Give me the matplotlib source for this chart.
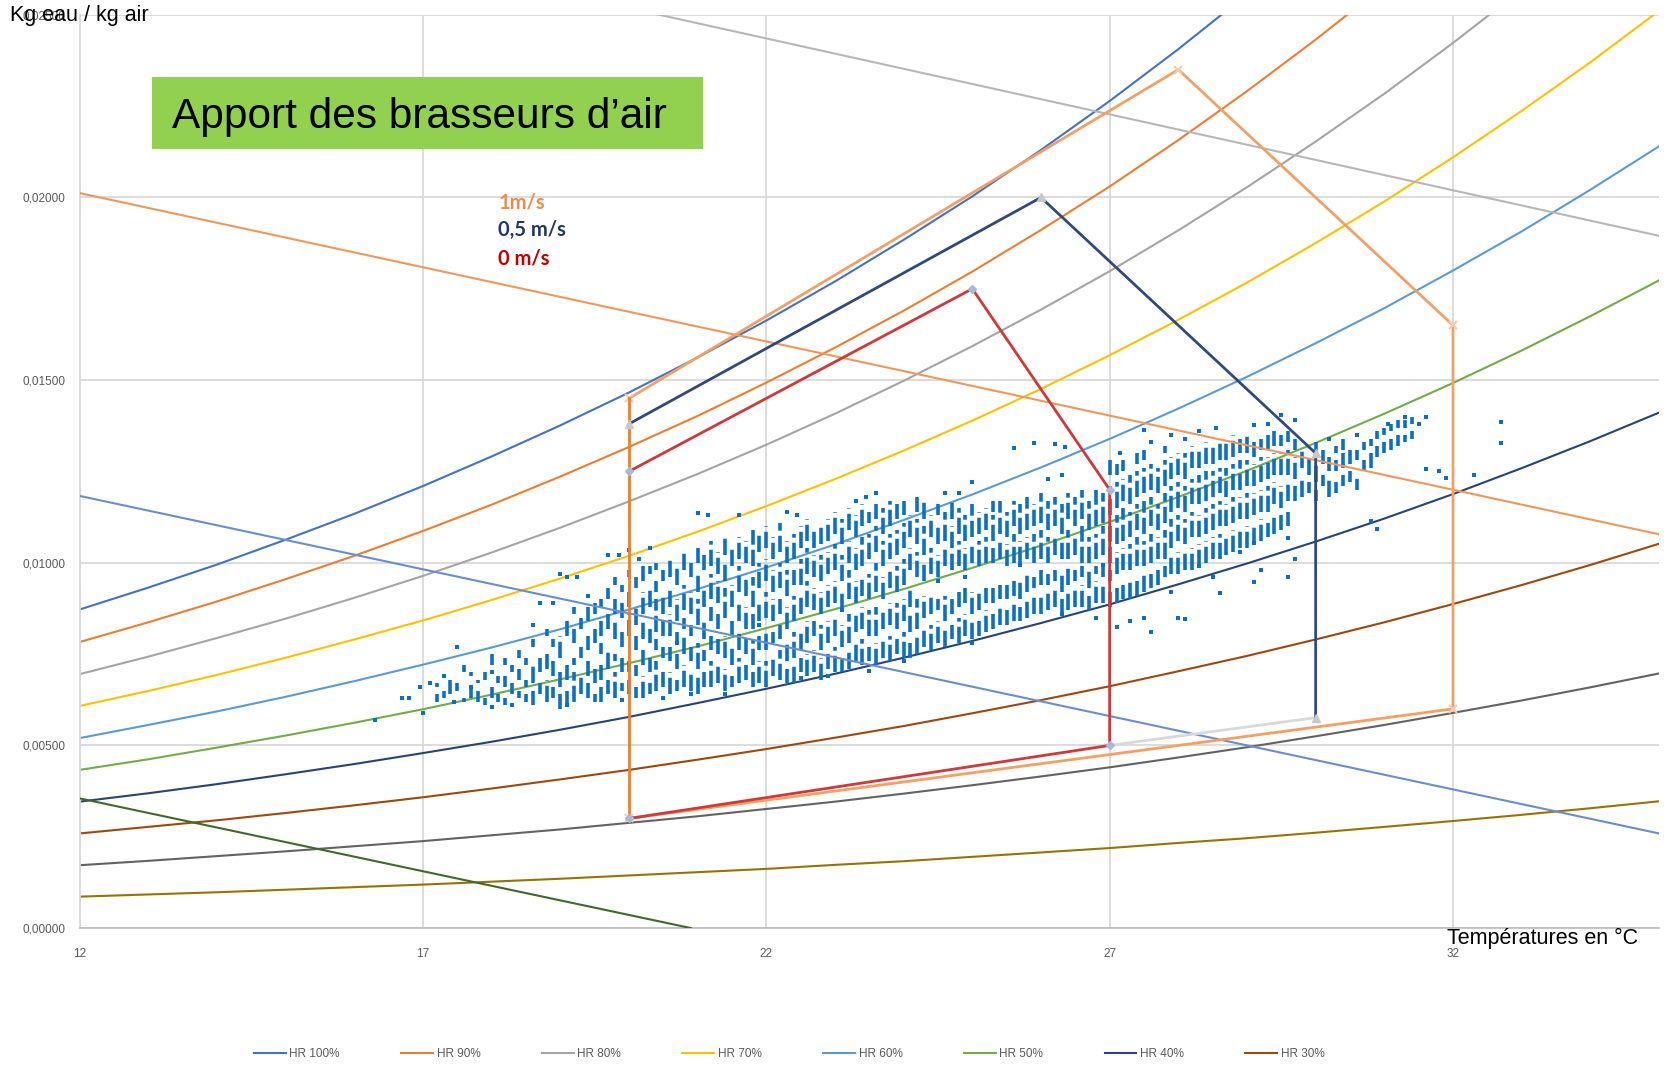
import matplotlib
matplotlib.use("Agg")
import matplotlib.pyplot as plt
from matplotlib.patches import Rectangle

plt.rcParams["font.family"] = ["Liberation Sans", "DejaVu Sans"]

# temperatures (°C) and relative-humidity curves (kg eau / kg air)
TEMPS = list(range(12, 36))
HR_LABELS = ["HR 100%", "HR 90%", "HR 80%", "HR 70%", "HR 60%", "HR 50%",
             "HR 40%", "HR 30%", "HR 20%", "HR 10%"]
HR_COLORS = ["#4472C4", "#ED7D31", "#A5A5A5", "#FFC000", "#5B9BD5", "#70AD47",
             "#264478", "#9E480E", "#636363", "#997300"]
HR100 = [0.00872, 0.00932, 0.00995, 0.01063, 0.01134, 0.01210, 0.01291, 0.01376, 0.01466,
         0.01562, 0.01663, 0.01770, 0.01884, 0.02003, 0.02130, 0.02264, 0.02406, 0.02556]
HR90 = [0.00783, 0.00837, 0.00894, 0.00955, 0.01019, 0.01087, 0.01159, 0.01236, 0.01317,
        0.01402, 0.01493, 0.01589, 0.01690, 0.01797, 0.01911, 0.02030, 0.02157, 0.02291,
        0.02432, 0.02581]
HR80 = [0.00695, 0.00743, 0.00794, 0.00847, 0.00904, 0.00964, 0.01028, 0.01096, 0.01168,
        0.01243, 0.01323, 0.01408, 0.01498, 0.01593, 0.01693, 0.01798, 0.01910, 0.02028,
        0.02153, 0.02284, 0.02423, 0.02569]
HR70 = [0.00608, 0.00649, 0.00693, 0.00740, 0.00790, 0.00842, 0.00898, 0.00957, 0.01019,
        0.01085, 0.01155, 0.01229, 0.01307, 0.01389, 0.01476, 0.01568, 0.01665, 0.01767,
        0.01875, 0.01989, 0.02110, 0.02237, 0.02370, 0.02511]
HR60 = [0.00520, 0.00556, 0.00593, 0.00633, 0.00676, 0.00721, 0.00768, 0.00818, 0.00872,
        0.00928, 0.00987, 0.01050, 0.01117, 0.01187, 0.01261, 0.01339, 0.01422, 0.01509,
        0.01601, 0.01697, 0.01800, 0.01907, 0.02021, 0.02140]
HR50 = [0.00433, 0.00462, 0.00494, 0.00527, 0.00562, 0.00599, 0.00639, 0.00681, 0.00725,
        0.00771, 0.00821, 0.00873, 0.00928, 0.00986, 0.01047, 0.01112, 0.01180, 0.01252,
        0.01328, 0.01408, 0.01492, 0.01581, 0.01675, 0.01773]
HR40 = [0.00346, 0.00369, 0.00394, 0.00421, 0.00449, 0.00479, 0.00510, 0.00543, 0.00578,
        0.00616, 0.00655, 0.00696, 0.00740, 0.00786, 0.00835, 0.00886, 0.00941, 0.00998,
        0.01058, 0.01121, 0.01188, 0.01259, 0.01333, 0.01411]
HR30 = [0.00259, 0.00277, 0.00295, 0.00315, 0.00336, 0.00358, 0.00382, 0.00407, 0.00433,
        0.00461, 0.00490, 0.00521, 0.00553, 0.00588, 0.00624, 0.00662, 0.00703, 0.00745,
        0.00790, 0.00837, 0.00887, 0.00939, 0.00994, 0.01052]
HR20 = [0.00172, 0.00184, 0.00197, 0.00210, 0.00224, 0.00238, 0.00254, 0.00270, 0.00288,
        0.00306, 0.00326, 0.00346, 0.00368, 0.00391, 0.00415, 0.00440, 0.00467, 0.00495,
        0.00525, 0.00556, 0.00589, 0.00623, 0.00659, 0.00697]
HR10 = [0.00086, 0.00092, 0.00098, 0.00105, 0.00112, 0.00119, 0.00127, 0.00135, 0.00144,
        0.00153, 0.00162, 0.00173, 0.00183, 0.00195, 0.00207, 0.00219, 0.00233, 0.00246,
        0.00261, 0.00277, 0.00293, 0.00310, 0.00328, 0.00347]
HR_SERIES = [HR100, HR90, HR80, HR70, HR60, HR50, HR40, HR30, HR20, HR10]

# iso-enthalpy lines (end points)
ENTH_T = [[12, 20.9], [12, 35], [12, 35], [12, 35]]
ENTH_W = [[0.00355, 0.0], [0.01183, 0.00259], [0.02012, 0.01078], [0.02851, 0.01895]]
ENTH_COLORS = ["#43682B", "#698ED0", "#F1975A", "#B7B7B7"]

# comfort zones per air speed
ZONE_1MS_T = [20, 28, 32, 32, 20]
ZONE_1MS_W = [0.0145, 0.0235, 0.0165, 0.0060, 0.0030]
ZONE_1MS_EDGE_T = [20, 20]
ZONE_1MS_EDGE_W = [0.0030, 0.0145]
ZONE_05_T = [20, 26, 30, 30]
ZONE_05_W = [0.0138, 0.0200, 0.0130, 0.00576]
ZONE_05_BASE_T = [30, 27]
ZONE_05_BASE_W = [0.00576, 0.0050]
ZONE_0_T = [20, 25, 27, 27, 20]
ZONE_0_W = [0.0125, 0.0175, 0.0120, 0.0050, 0.0030]

# measured points: vertical runs of stacked hourly points (T, w low, w high) in 1e-4 kg/kg
STREAKS = [
    (17.2, 62, 64), (17.2, 66, 67), (17.3, 63, 65), (17.4, 64, 68), (17.5, 65, 67),
    (17.6, 62, 63), (17.6, 70, 72), (17.7, 63, 66), (17.7, 69, 70), (17.8, 62, 65),
    (17.8, 67, 68), (17.9, 61, 63), (17.9, 68, 70), (18.0, 63, 66), (18.0, 72, 75),
    (18.1, 62, 64), (18.1, 67, 69), (18.2, 61, 63), (18.2, 66, 69), (18.2, 72, 74),
    (18.3, 64, 67), (18.3, 70, 72), (18.4, 63, 65), (18.4, 68, 71), (18.4, 74, 76),
    (18.5, 62, 64), (18.5, 66, 68), (18.5, 72, 74), (18.6, 61, 65), (18.6, 67, 72),
    (18.6, 77, 79), (18.7, 64, 67), (18.7, 70, 74), (18.8, 62, 68), (18.8, 71, 75),
    (18.8, 80, 82), (18.9, 63, 66), (18.9, 69, 73), (18.9, 77, 79),
    (19.0, 60, 64), (19.0, 66, 70), (19.0, 74, 80), (19.1, 61, 65), (19.1, 68, 72), (19.1, 80, 84),
    (19.2, 62, 70), (19.2, 72, 74), (19.2, 78, 82), (19.2, 86, 88),
    (19.3, 64, 69), (19.3, 74, 77), (19.3, 82, 85),
    (19.4, 63, 67), (19.4, 69, 73), (19.4, 76, 80), (19.4, 84, 88),
    (19.5, 62, 64), (19.5, 67, 71), (19.5, 78, 82), (19.5, 86, 89),
    (19.6, 62, 66), (19.6, 68, 72), (19.6, 75, 78), (19.6, 80, 84), (19.6, 88, 90),
    (19.7, 64, 68), (19.7, 71, 76), (19.7, 82, 86), (19.7, 90, 93),
    (19.8, 63, 70), (19.8, 73, 75), (19.8, 79, 84), (19.8, 86, 90), (19.8, 94, 96),
    (19.9, 65, 67), (19.9, 70, 74), (19.9, 77, 81), (19.9, 85, 89), (19.9, 92, 94),
    (20.0, 64, 68), (20.0, 70, 73), (20.0, 80, 86), (20.0, 88, 92), (20.0, 96, 98),
    (20.1, 63, 66), (20.1, 69, 72), (20.1, 76, 80), (20.1, 83, 88), (20.1, 93, 96),
    (20.2, 63, 69), (20.2, 72, 76), (20.2, 79, 84), (20.2, 86, 92), (20.2, 95, 99),
    (20.3, 64, 67), (20.3, 70, 74), (20.3, 78, 82), (20.3, 88, 93), (20.3, 97, 99),
    (20.4, 65, 73), (20.4, 76, 79), (20.4, 81, 90), (20.4, 92, 95), (20.4, 98, 100),
    (20.5, 66, 70), (20.5, 74, 77), (20.5, 80, 84), (20.5, 86, 91), (20.5, 95, 98),
    (20.6, 64, 70), (20.6, 73, 77), (20.6, 80, 86), (20.6, 88, 93), (20.6, 96, 101),
    (20.7, 65, 68), (20.7, 71, 75), (20.7, 78, 81), (20.7, 84, 90), (20.7, 94, 99),
    (20.8, 66, 72), (20.8, 75, 80), (20.8, 82, 85), (20.8, 87, 94), (20.8, 98, 103),
    (20.9, 65, 70), (20.9, 73, 77), (20.9, 80, 83), (20.9, 86, 92), (20.9, 96, 100),
    (21.0, 64, 69), (21.0, 71, 78), (21.0, 83, 90), (21.0, 92, 97), (21.0, 100, 104),
    (21.1, 66, 70), (21.1, 73, 76), (21.1, 79, 84), (21.1, 88, 93), (21.1, 98, 102),
    (21.2, 66, 73), (21.2, 76, 80), (21.2, 84, 88), (21.2, 90, 97), (21.2, 99, 106),
    (21.3, 67, 72), (21.3, 75, 79), (21.3, 82, 86), (21.3, 89, 95), (21.3, 97, 103),
    (21.4, 65, 71), (21.4, 74, 80), (21.4, 85, 93), (21.4, 95, 100), (21.4, 102, 108),
    (21.5, 66, 69), (21.5, 72, 77), (21.5, 80, 84), (21.5, 88, 94), (21.5, 99, 104),
    (21.6, 67, 74), (21.6, 76, 81), (21.6, 84, 89), (21.6, 92, 99), (21.6, 101, 107),
    (21.7, 68, 72), (21.7, 75, 79), (21.7, 82, 88), (21.7, 91, 96), (21.7, 100, 106),
    (21.8, 66, 70), (21.8, 72, 79), (21.8, 82, 86), (21.8, 88, 96), (21.8, 99, 109),
    (21.9, 67, 73), (21.9, 76, 80), (21.9, 84, 89), (21.9, 93, 100), (21.9, 103, 108),
    (22.0, 66, 73), (22.0, 76, 82), (22.0, 85, 92), (22.0, 95, 101), (22.0, 104, 110),
    (22.1, 69, 74), (22.1, 78, 81), (22.1, 84, 90), (22.1, 92, 98), (22.1, 101, 107),
    (22.2, 68, 76), (22.2, 79, 83), (22.2, 86, 90), (22.2, 93, 100), (22.2, 103, 111),
    (22.3, 67, 71), (22.3, 73, 78), (22.3, 82, 88), (22.3, 91, 98), (22.3, 100, 106),
    (22.4, 67, 72), (22.4, 74, 81), (22.4, 84, 91), (22.4, 94, 98), (22.4, 101, 108),
    (22.5, 70, 74), (22.5, 76, 82), (22.5, 86, 91), (22.5, 94, 101), (22.5, 104, 110),
    (22.6, 69, 75), (22.6, 78, 84), (22.6, 88, 95), (22.6, 97, 104), (22.6, 106, 112),
    (22.7, 70, 76), (22.7, 80, 84), (22.7, 87, 93), (22.7, 96, 102), (22.7, 104, 109),
    (22.8, 68, 74), (22.8, 76, 83), (22.8, 86, 92), (22.8, 95, 102), (22.8, 105, 111),
    (22.9, 71, 75), (22.9, 78, 84), (22.9, 88, 94), (22.9, 97, 103), (22.9, 106, 112),
    (23.0, 70, 77), (23.0, 80, 85), (23.0, 89, 95), (23.0, 98, 105), (23.0, 108, 114),
    (23.1, 70, 74), (23.1, 77, 83), (23.1, 87, 92), (23.1, 95, 102), (23.1, 105, 112),
    (23.2, 71, 76), (23.2, 78, 86), (23.2, 90, 98), (23.2, 100, 106), (23.2, 109, 115),
    (23.3, 73, 78), (23.3, 81, 86), (23.3, 89, 95), (23.3, 98, 104), (23.3, 107, 113),
    (23.4, 72, 79), (23.4, 82, 88), (23.4, 91, 96), (23.4, 99, 107), (23.4, 110, 116),
    (23.5, 73, 77), (23.5, 80, 87), (23.5, 90, 97), (23.5, 101, 108), (23.5, 111, 114),
    (23.6, 72, 78), (23.6, 80, 88), (23.6, 92, 100), (23.6, 103, 110), (23.6, 112, 116),
    (23.7, 74, 79), (23.7, 82, 87), (23.7, 90, 96), (23.7, 99, 106), (23.7, 108, 115),
    (23.8, 73, 80), (23.8, 83, 89), (23.8, 93, 98), (23.8, 101, 108), (23.8, 110, 117),
    (23.9, 75, 79), (23.9, 82, 89), (23.9, 92, 99), (23.9, 102, 109), (23.9, 112, 116),
    (24.0, 74, 81), (24.0, 84, 90), (24.0, 94, 101), (24.0, 104, 111), (24.0, 113, 117),
    (24.1, 74, 78), (24.1, 81, 86), (24.1, 88, 93), (24.1, 98, 104), (24.1, 107, 113),
    (24.2, 75, 80), (24.2, 82, 90), (24.2, 96, 103), (24.2, 105, 112), (24.2, 114, 118),
    (24.3, 77, 82), (24.3, 85, 91), (24.3, 95, 100), (24.3, 102, 110), (24.3, 112, 117),
    (24.4, 76, 83), (24.4, 86, 91), (24.4, 97, 104), (24.4, 107, 113),
    (24.5, 78, 84), (24.5, 87, 90), (24.5, 96, 102), (24.5, 105, 111), (24.5, 113, 116),
    (24.6, 77, 82), (24.6, 84, 91), (24.6, 99, 104), (24.6, 106, 114),
    (24.7, 79, 83), (24.7, 86, 90), (24.7, 98, 103), (24.7, 104, 110), (24.7, 112, 117),
    (24.8, 78, 85), (24.8, 88, 92), (24.8, 99, 106), (24.8, 108, 115),
    (24.9, 80, 86), (24.9, 89, 93), (24.9, 98, 104), (24.9, 106, 113),
    (25.0, 79, 84), (25.0, 86, 92), (25.0, 100, 105), (25.0, 107, 116),
    (25.1, 80, 84), (25.1, 87, 92), (25.1, 99, 106), (25.1, 108, 114),
    (25.2, 81, 87), (25.2, 89, 93), (25.2, 100, 107), (25.2, 109, 115),
    (25.3, 82, 86), (25.3, 89, 93), (25.3, 100, 104), (25.3, 106, 113), (25.3, 114, 117),
    (25.4, 83, 88), (25.4, 90, 94), (25.4, 101, 106), (25.4, 108, 117),
    (25.5, 83, 87), (25.5, 90, 94), (25.5, 99, 105), (25.5, 107, 114),
    (25.6, 84, 89), (25.6, 91, 95), (25.6, 100, 108), (25.6, 110, 117),
    (25.7, 84, 88), (25.7, 90, 95), (25.7, 100, 106), (25.7, 108, 116),
    (25.8, 85, 90), (25.8, 92, 97), (25.8, 101, 107), (25.8, 109, 118),
    (25.9, 86, 91), (25.9, 93, 96), (25.9, 100, 108), (25.9, 110, 116),
    (26.0, 86, 91), (26.0, 94, 98), (26.0, 101, 109), (26.0, 111, 119),
    (26.1, 87, 92), (26.1, 94, 97), (26.1, 100, 107), (26.1, 109, 117),
    (26.2, 88, 93), (26.2, 95, 98), (26.2, 102, 108), (26.2, 110, 118),
    (26.3, 86, 90), (26.3, 92, 97), (26.3, 101, 106), (26.3, 108, 116),
    (26.4, 87, 92), (26.4, 94, 99), (26.4, 101, 109), (26.4, 112, 119),
    (26.5, 88, 93), (26.5, 95, 98), (26.5, 102, 108), (26.5, 110, 118),
    (26.6, 88, 94), (26.6, 96, 99), (26.6, 100, 110), (26.6, 112, 120),
    (26.7, 87, 91), (26.7, 93, 98), (26.7, 100, 107), (26.7, 109, 117),
    (26.8, 89, 95), (26.8, 97, 99), (26.8, 101, 108), (26.8, 110, 120),
    (26.9, 89, 94), (26.9, 96, 99), (26.9, 102, 110), (26.9, 111, 119),
    (27.0, 88, 92), (27.0, 95, 98), (27.0, 100, 110), (27.0, 113, 121), (27.0, 124, 128),
    (27.1, 89, 93), (27.1, 97, 103), (27.1, 105, 113), (27.1, 115, 122), (27.1, 124, 127),
    (27.2, 90, 94), (27.2, 98, 104), (27.2, 106, 115), (27.2, 117, 123), (27.2, 125, 128),
    (27.3, 90, 95), (27.3, 98, 105), (27.3, 107, 114), (27.3, 116, 124),
    (27.4, 91, 95), (27.4, 99, 107), (27.4, 109, 116), (27.4, 118, 125), (27.4, 127, 130),
    (27.5, 92, 97), (27.5, 99, 106), (27.5, 108, 117), (27.5, 119, 126), (27.5, 128, 131),
    (27.6, 93, 97), (27.6, 100, 108), (27.6, 110, 118), (27.6, 120, 127),
    (27.7, 94, 98), (27.7, 101, 107), (27.7, 109, 116), (27.7, 119, 126),
    (27.8, 96, 99), (27.8, 101, 109), (27.8, 111, 119), (27.8, 121, 128), (27.8, 130, 132),
    (27.9, 97, 102), (27.9, 104, 112), (27.9, 114, 121), (27.9, 123, 129),
    (28.0, 97, 103), (28.0, 106, 113), (28.0, 115, 122), (28.0, 124, 130),
    (28.1, 98, 103), (28.1, 105, 112), (28.1, 114, 121), (28.1, 123, 130),
    (28.2, 98, 104), (28.2, 107, 114), (28.2, 116, 123), (28.2, 126, 132),
    (28.3, 99, 105), (28.3, 107, 113), (28.3, 116, 124), (28.3, 126, 131),
    (28.4, 100, 106), (28.4, 108, 115), (28.4, 117, 125), (28.4, 127, 133),
    (28.5, 101, 107), (28.5, 109, 116), (28.5, 118, 125), (28.5, 127, 132),
    (28.6, 101, 108), (28.6, 110, 117), (28.6, 119, 126), (28.6, 128, 134),
    (28.7, 102, 107), (28.7, 110, 116), (28.7, 118, 126), (28.7, 128, 133),
    (28.8, 103, 109), (28.8, 111, 118), (28.8, 120, 127), (28.8, 129, 135),
    (28.9, 104, 109), (28.9, 112, 118), (28.9, 120, 128), (28.9, 130, 134),
    (29.0, 104, 110), (29.0, 112, 119), (29.0, 121, 128), (29.0, 130, 135),
    (29.1, 105, 111), (29.1, 113, 119), (29.1, 121, 127), (29.1, 129, 133),
    (29.2, 106, 112), (29.2, 114, 120), (29.2, 122, 129), (29.2, 131, 134),
    (29.3, 107, 111), (29.3, 114, 121), (29.3, 123, 129), (29.3, 131, 135),
    (29.4, 108, 113), (29.4, 116, 122), (29.4, 124, 130), (29.4, 132, 136),
    (29.5, 109, 113), (29.5, 115, 121), (29.5, 124, 130), (29.5, 132, 135),
    (29.6, 110, 114), (29.6, 117, 122), (29.6, 124, 131), (29.6, 133, 136),
    (29.7, 117, 121), (29.7, 123, 129), (29.7, 131, 134),
    (29.8, 118, 123), (29.8, 126, 131), (29.9, 119, 122), (29.9, 124, 129),
    (30.0, 117, 120), (30.0, 122, 127), (30.0, 129, 133), (30.1, 121, 124), (30.1, 127, 131),
    (30.2, 118, 123), (30.2, 125, 129), (30.3, 119, 122), (30.3, 125, 128), (30.3, 130, 132),
    (30.4, 121, 124), (30.4, 126, 130), (30.4, 131, 134), (30.5, 122, 125), (30.5, 127, 131),
    (30.6, 120, 123), (30.6, 128, 131), (30.7, 125, 128), (30.7, 131, 133),
    (30.8, 126, 130), (30.8, 132, 134), (30.9, 129, 132), (30.9, 134, 136),
    (31.0, 130, 133), (31.0, 135, 137), (31.1, 131, 134), (31.1, 136, 138),
    (31.2, 132, 135), (31.2, 137, 139), (31.3, 133, 135), (31.3, 137, 139),
    (31.4, 134, 136), (31.4, 138, 140),
]
POINTS = [
    (16.3, 57), (16.7, 63), (16.8, 63), (17.0, 59), (16.95, 66), (17.1, 67), (17.5, 77),
    (17.3, 69), (17.7, 66), (18.0, 70), (18.3, 61), (18.6, 83), (18.7, 89), (18.9, 89),
    (19.0, 97), (19.1, 96), (19.25, 96), (19.4, 91), (19.7, 102), (19.85, 102), (20.0, 103.5),
    (20.15, 101), (20.3, 104), (21.0, 113.5), (21.15, 113), (21.6, 113), (22.3, 114),
    (22.45, 113), (23.3, 117), (23.45, 118), (23.6, 119), (24.6, 119), (24.8, 119),
    (25.0, 122), (25.6, 131.5), (25.9, 132.7), (26.2, 132.5), (26.35, 131.8), (26.3, 124),
    (27.15, 130), (27.5, 136.4), (27.6, 133), (27.9, 135), (28.1, 134), (28.3, 136),
    (28.55, 137), (29.1, 137.7), (29.5, 140.5), (29.3, 138), (29.7, 139), (30.2, 134),
    (30.6, 135), (31.05, 138), (31.3, 140), (31.6, 140), (31.5, 138), (31.6, 125.6),
    (31.8, 125.1), (31.9, 123.1), (32.3, 124), (32.7, 138.6), (32.7, 132.9), (30.8, 111.3),
    (30.9, 109.2), (29.1, 105.3), (29.2, 98), (29.1, 94.8), (29.6, 106.7), (29.6, 96.2),
    (29.7, 101), (28.6, 91.8), (28.9, 103), (28.0, 85), (28.1, 84.5), (27.6, 81), (27.5, 85),
    (27.3, 84), (27.1, 82.5), (26.8, 85), (26.3, 86), (25.0, 78), (24.0, 73), (23.5, 70.5),
    (22.9, 69), (22.5, 68.5), (21.4, 64), (20.9, 64), (20.5, 63), (19.9, 62.5), (19.1, 61),
    (18.0, 60.5), (17.45, 62), (26.9, 99.5), (25.7, 99.5), (24.5, 95), (23.1, 87),
    (21.9, 83), (20.7, 78), (28.3, 99), (28.5, 96), (27.9, 92), (26.1, 123), (24.9, 96),
]

BLUE = "#0B70C4"
GRAY_TXT = "#595959"

fig = plt.figure(figsize=(16.65, 10.66), dpi=100)
ax = fig.add_axes([0.0478, 0.1294, 0.9486, 0.8567])

lines = []
for label, color, w in zip(HR_LABELS, HR_COLORS, HR_SERIES):
    (ln,) = ax.plot(TEMPS[:len(w)], w, color=color, linewidth=1.5, label=label, zorder=2)
    lines.append(ln)

# stacked points: short dashes give the broken, dotted look of the runs
st_t = [s[0] for s in STREAKS]
st_lo = [s[1] / 1e4 for s in STREAKS]
st_hi = [s[2] / 1e4 for s in STREAKS]
lc = ax.vlines(st_t, st_lo, st_hi, colors=BLUE, linewidth=2.6, zorder=3,
               linestyles=[(0, (4.5, 1.4))])
lc.set_capstyle("butt")
ax.scatter([p[0] for p in POINTS], [p[1] / 1e4 for p in POINTS],
           marker="s", s=7, color=BLUE, linewidths=0, zorder=3)

for t, w, color in zip(ENTH_T, ENTH_W, ENTH_COLORS):
    ax.plot(t, w, color=color, linewidth=1.5, zorder=4)

ax.plot(ZONE_1MS_T, ZONE_1MS_W, color="#F3A066", linewidth=2.0, zorder=5,
        marker="x", markersize=6, markeredgecolor="#F8CBAD", markeredgewidth=1.5)
ax.plot(ZONE_1MS_EDGE_T, ZONE_1MS_EDGE_W, color="#ED7D31", linewidth=2.0, zorder=5)
ax.plot(ZONE_05_BASE_T, ZONE_05_BASE_W, color="#D9D9D9", linewidth=2.0, zorder=5)
ax.plot(ZONE_05_T, ZONE_05_W, color="#2F4B7C", linewidth=2.0, zorder=6,
        marker="^", markersize=6, markerfacecolor="#C9C9C9", markeredgecolor="#C9C9C9")
ax.plot(ZONE_0_T, ZONE_0_W, color="#D0393A", linewidth=2.0, zorder=6,
        marker="D", markersize=4.5, markerfacecolor="#A9B8D9", markeredgecolor="#A9B8D9")

ax.set_xlim(12, 35)
ax.set_ylim(0, 0.025)
ax.set_xticks([12, 17, 22, 27, 32])
ax.set_yticks([0, 0.005, 0.010, 0.015, 0.020, 0.025])
ax.set_yticklabels([f"{v:.5f}".replace(".", ",") for v in ax.get_yticks()])
ax.tick_params(axis="both", length=0, colors=GRAY_TXT, labelsize=8.5)
ax.tick_params(axis="y", pad=10)
ax.tick_params(axis="x", pad=14)
ax.grid(True, color="#D9D9D9", linewidth=1.3, zorder=0)
ax.set_axisbelow(True)
for side in ["top", "right"]:
    ax.spines[side].set_visible(False)
ax.spines["left"].set_color("#D9D9D9")
ax.spines["left"].set_linewidth(1.3)
ax.spines["bottom"].set_color("#BFBFBF")
ax.spines["bottom"].set_linewidth(1.3)

fig.text(0.006, 0.985, "Kg eau / kg air", fontsize=15.5, color="black", va="center")
fig.text(0.869, 0.120, "Températures en °C", fontsize=15.5, color="black", va="center")

# green title box
fig.add_artist(Rectangle((0.0912, 0.8605), 0.331, 0.0677, transform=fig.transFigure,
                         facecolor="#92D050", edgecolor="none", zorder=10))
fig.text(0.1033, 0.8905, "Apport des brasseurs d\u2019air", fontsize=30.5, color="black",
         va="center", ha="left", zorder=11)

speed_font = ["Lato", "DejaVu Sans"]
ax.text(18.1, 0.01987, "1m/s", color="#F08C4B", fontsize=14.5, fontweight="bold",
        family=speed_font, va="center")
ax.text(18.1, 0.01910, "0,5 m/s", color="#1F3864", fontsize=14.5, fontweight="bold",
        family=speed_font, va="center")
ax.text(18.1, 0.01832, "0 m/s", color="#C00000", fontsize=14.5, fontweight="bold",
        family=speed_font, va="center")

leg = fig.legend(handles=lines[:8], loc="lower center", bbox_to_anchor=(0.474, -0.004),
                 ncol=8, frameon=False, fontsize=8.5, handlelength=2.7,
                 handletextpad=0.3, columnspacing=5.2)
for txt in leg.get_texts():
    txt.set_color(GRAY_TXT)

fig.savefig("out.png", dpi=100)
